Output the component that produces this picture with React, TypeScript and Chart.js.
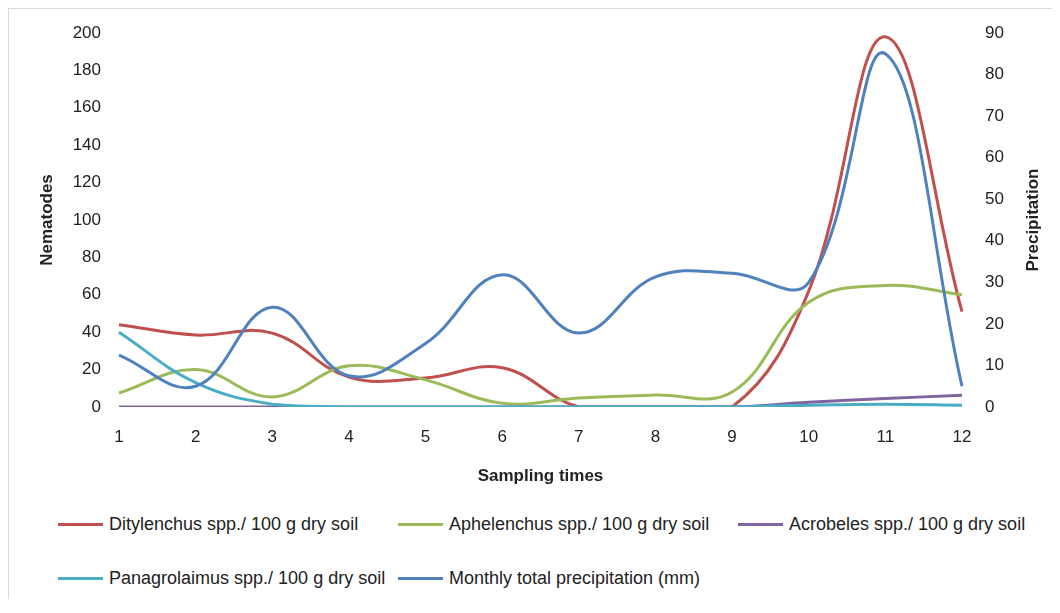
import React, { useEffect, useRef } from "react";
import { Chart, registerables } from "chart.js";

Chart.register(...registerables);

const samplingTimes = ["1", "2", "3", "4", "5", "6", "7", "8", "9", "10", "11", "12"];
const ditylenchus = [44, 38.5, 39.5, 16, 15.5, 21, 0, 0, 0, 62, 198, 51];
const aphelenchus = [7.5, 20, 5.4, 22, 14.5, 2, 4.8, 6.4, 8, 56, 65, 60];
const acrobeles = [0, 0, 0, 0, 0, 0, 0, 0, 0, 2.5, 4.5, 6.3];
const panagrolaimus = [40, 13, 1.5, 0, 0, 0, 0, 0, 0, 1, 1.5, 1];
const precipitation = [12.5, 5, 24, 7.5, 15.3, 31.8, 17.8, 31.3, 32.2, 30, 85, 5];

const seriesNames = [
  "Ditylenchus spp./ 100 g dry soil",
  "Aphelenchus spp./ 100 g dry soil",
  "Acrobeles spp./ 100 g dry soil",
  "Panagrolaimus spp./ 100 g dry soil",
  "Monthly total precipitation (mm)",
];
const seriesColors = ["#C0504D", "#9BBB59", "#8064A2", "#4BACC6", "#4F81BD"];

const FONT = "'Liberation Sans', Arial, sans-serif";
const TEXT = "#222222";
const rightTitle = "Precipitation";

const rightTitlePlugin = {
  id: "rightTitle",
  afterDraw(chart: any) {
    const { ctx, chartArea } = chart;
    ctx.save();
    ctx.translate(1024, (chartArea.top + chartArea.bottom) / 2);
    ctx.rotate(-Math.PI / 2);
    ctx.font = `bold 17px ${FONT}`;
    ctx.fillStyle = TEXT;
    ctx.textAlign = "center";
    ctx.textBaseline = "middle";
    ctx.fillText(rightTitle, 0, 0);
    ctx.restore();
  },
};

const hiddenGrid = (len: number) => ({
  display: true,
  drawOnChartArea: false,
  drawTicks: true,
  tickLength: len,
  color: "rgba(0,0,0,0)",
});

export default function App() {
  const canvasRef = useRef<HTMLCanvasElement | null>(null);

  useEffect(() => {
    if (!canvasRef.current) return;
    const values = [ditylenchus, aphelenchus, acrobeles, panagrolaimus, precipitation];
    const chart = new Chart(canvasRef.current, {
      type: "line",
      data: {
        labels: samplingTimes,
        datasets: values.map((v, i) => ({
          label: seriesNames[i],
          data: v,
          borderColor: seriesColors[i],
          backgroundColor: seriesColors[i],
          borderWidth: 3,
          pointRadius: 0,
          tension: 0.4,
          fill: false,
          yAxisID: i === 4 ? "y2" : "y",
          order: 5 - i,
        })),
      },
      options: {
        animation: false,
        responsive: true,
        maintainAspectRatio: false,
        layout: { padding: { left: 28, right: 9, top: 24, bottom: 0 } },
        plugins: {
          legend: { display: false },
          tooltip: { enabled: false },
        },
        scales: {
          x: {
            type: "category",
            offset: false,
            grid: hiddenGrid(20),
            border: { display: false },
            ticks: { padding: 0, color: TEXT, font: { family: FONT, size: 17 } },
            title: {
              display: true,
              text: "Sampling times",
              color: TEXT,
              font: { family: FONT, size: 17, weight: "bold" },
              padding: { top: 0, bottom: 12 },
            },
            afterFit: (s: any) => {
              s.height = 92;
            },
          },
          y: {
            position: "left",
            min: 0,
            max: 200,
            grid: hiddenGrid(18),
            border: { display: false },
            ticks: { stepSize: 20, padding: 0, color: TEXT, font: { family: FONT, size: 17 } },
            title: {
              display: true,
              text: "Nematodes",
              color: TEXT,
              font: { family: FONT, size: 17, weight: "bold" },
              padding: { top: 0, bottom: 0 },
            },
            afterFit: (s: any) => {
              s.width = 82;
            },
          },
          y2: {
            position: "right",
            min: 0,
            max: 90,
            grid: hiddenGrid(23),
            border: { display: false },
            ticks: { stepSize: 10, padding: 0, color: TEXT, font: { family: FONT, size: 17 } },
            title: { display: false, text: rightTitle },
            afterFit: (s: any) => {
              s.width = 81;
            },
          },
        },
      },
      plugins: [rightTitlePlugin],
    });
    return () => chart.destroy();
  }, []);

  const legendRows = [
    [0, 1, 2],
    [3, 4],
  ];
  const rowTops = [515, 569];
  const colLefts = [49, 389, 729];

  return (
    <div
      style={{
        position: "relative",
        width: 1043,
        height: 590,
        borderTop: "1px solid #d9d9d9",
        borderLeft: "1px solid #d9d9d9",
        background: "#ffffff",
        fontFamily: FONT,
      }}
    >
      <div style={{ position: "absolute", left: 0, top: 0, width: 1043, height: 490 }}>
        <canvas ref={canvasRef} />
      </div>
      {legendRows.map((row, r) =>
        row.map((idx, c) => (
          <div
            key={idx}
            style={{
              position: "absolute",
              left: colLefts[c],
              top: rowTops[r] - 11,
              height: 22,
              display: "flex",
              alignItems: "center",
              whiteSpace: "nowrap",
            }}
          >
            <span
              style={{
                display: "inline-block",
                width: 45,
                height: 3,
                background: seriesColors[idx],
                marginRight: 6,
              }}
            />
            <span style={{ fontSize: 18, color: TEXT, lineHeight: "22px" }}>{seriesNames[idx]}</span>
          </div>
        ))
      )}
    </div>
  );
}
